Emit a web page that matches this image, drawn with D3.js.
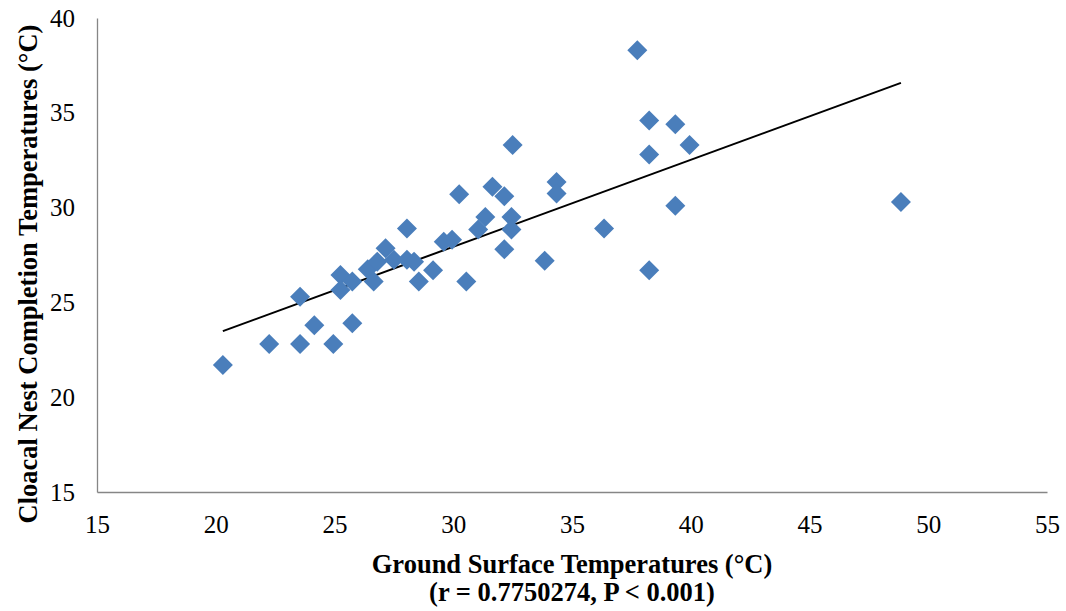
<!DOCTYPE html>
<html>
<head>
<meta charset="utf-8">
<script src="https://cdn.jsdelivr.net/npm/d3@7"></script>
<style>
  body { margin: 0; background: white; }
  text { font-family: "Liberation Serif", "Times New Roman", serif; }
</style>
</head>
<body>
<div id="chart"></div>
<script>
// ground surface temperature (x) and cloacal nest completion temperature (y)
var groundTemp = [20.3, 22.25, 23.55, 23.55, 24.15, 24.95, 25.75, 25.25, 25.25, 25.75,
  26.4, 26.65, 26.8, 27.15, 27.5, 28.05, 28.35, 28.55, 29.15, 28.05,
  29.6, 29.95, 30.55, 30.25, 31.35, 31.05, 31.65, 32.15, 32.45, 32.45,
  32.15, 32.5, 33.85, 34.35, 34.35, 36.35, 37.75, 38.25, 38.25, 38.25,
  39.35, 39.35, 39.95, 48.85];
var cloacalTemp = [21.7, 22.8, 22.8, 25.3, 23.8, 22.8, 23.9, 26.45, 25.65, 26.1,
  26.75, 26.1, 27.15, 27.85, 27.25, 27.25, 27.15, 26.1, 26.7, 28.9,
  28.2, 28.3, 26.1, 30.7, 29.5, 28.85, 31.1, 30.6, 29.5, 28.85,
  27.8, 33.3, 27.2, 31.35, 30.75, 28.9, 38.3, 34.6, 32.8, 26.7,
  34.4, 30.1, 33.3, 30.3];
var xTicks = [15, 20, 25, 30, 35, 40, 45, 50, 55];
var yTicks = [15, 20, 25, 30, 35, 40];

var margin = {top: 18, right: 19, bottom: 119, left: 97};
var width = 1066 - margin.left - margin.right;
var height = 611 - margin.top - margin.bottom;

var pts = groundTemp.map(function (d, i) { return {x: d, y: cloacalTemp[i]}; });

var svg = d3.select("#chart")
  .append("svg")
  .attr("width", 1066)
  .attr("height", 611);

var g = svg.append("g")
  .attr("transform", "translate(" + margin.left + "," + margin.top + ")");

var xscale = d3.scaleLinear().domain([15, 55]).range([0, width]);
var yscale = d3.scaleLinear().domain([15, 40]).range([height, 0]);

// axes: plain grey lines, no tick marks
g.append("g")
  .attr("transform", "translate(0," + height + ")")
  .call(d3.axisBottom(xscale).tickValues(xTicks).tickSize(0).tickPadding(23))
  .call(function (a) {
    a.select(".domain").attr("stroke", "#868686").attr("stroke-width", 1.3);
    a.selectAll("text").style("font-size", "25px").attr("fill", "#000");
  });

g.append("g")
  .call(d3.axisLeft(yscale).tickValues(yTicks).tickSize(0).tickPadding(22))
  .call(function (a) {
    a.select(".domain").attr("stroke", "#868686").attr("stroke-width", 1.3);
    a.selectAll("text").style("font-size", "25px").attr("fill", "#000");
  });

// linear trendline over the data range
var mx = d3.mean(pts, d => d.x), my = d3.mean(pts, d => d.y);
var sxy = d3.sum(pts, d => (d.x - mx) * (d.y - my));
var sxx = d3.sum(pts, d => (d.x - mx) * (d.x - mx));
var slope = sxy / sxx, icept = my - slope * mx;
var xr = d3.extent(pts, d => d.x);

g.append("line")
  .attr("x1", xscale(xr[0]))
  .attr("y1", yscale(icept + slope * xr[0]))
  .attr("x2", xscale(xr[1]))
  .attr("y2", yscale(icept + slope * xr[1]))
  .attr("stroke", "#000")
  .attr("stroke-width", 2);

// diamond markers
g.selectAll("path.pt")
  .data(pts)
  .enter().append("path")
  .attr("class", "pt")
  .attr("d", "M0,-10L10,0L0,10L-10,0Z")
  .attr("transform", d => "translate(" + xscale(d.x) + "," + yscale(d.y) + ")")
  .attr("fill", "#4a7ebb");

// axis titles
svg.append("text")
  .attr("x", margin.left + width / 2)
  .attr("y", 573)
  .attr("text-anchor", "middle")
  .style("font-size", "26.5px")
  .style("font-weight", "bold")
  .text("Ground Surface Temperatures (°C)");

svg.append("text")
  .attr("x", margin.left + width / 2)
  .attr("y", 601)
  .attr("text-anchor", "middle")
  .style("font-size", "26.5px")
  .style("font-weight", "bold")
  .text("(r = 0.7750274, P < 0.001)");

svg.append("text")
  .attr("transform", "translate(37,274) rotate(-90)")
  .attr("text-anchor", "middle")
  .style("font-size", "26.5px")
  .style("font-weight", "bold")
  .text("Cloacal Nest Completion Temperatures (°C)");
</script>
</body>
</html>
